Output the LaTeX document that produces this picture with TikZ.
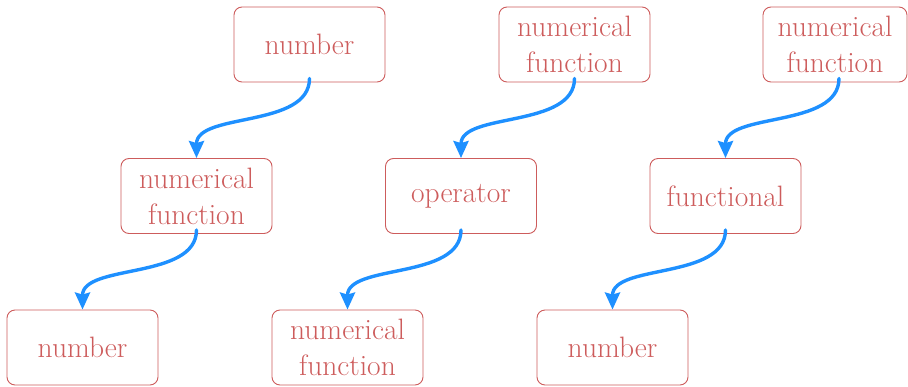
\documentclass[tikz,border=0pt]{standalone}
\usetikzlibrary{arrows.meta}
\definecolor{boxred}{RGB}{205,92,92}
\definecolor{arrblue}{RGB}{30,144,255}
\tikzset{
  term/.style={draw=boxred, text=boxred, line width=0.9pt, rounded corners=8pt,
    minimum width=151pt, minimum height=75pt, align=center, inner sep=0pt,
    font=\fontsize{29.5}{36}\selectfont},
  flow/.style={draw=arrblue, line width=3.4pt, line cap=round,
    -{Stealth[length=17pt,width=15pt,inset=2pt]}}
}
\begin{document}
\begin{tikzpicture}[x=1pt,y=-1pt]
\useasboundingbox (0,0) rectangle (908,386);
\node[term] (A) at (309.5,44.5) {number};
\node[term] (B) at (574.5,44.5) {numerical\\function};
\node[term, minimum width=144pt] (C) at (835,44.5) {numerical\\function};
\node[term] (D) at (196.5,196) {numerical\\function};
\node[term] (E) at (461,196) {operator};
\node[term] (F) at (725.5,196) {functional};
\node[term] (G) at (82.5,347.5) {number};
\node[term] (H) at (347.5,347.5) {numerical\\function};
\node[term] (I) at (612.5,347.5) {number};
\draw[flow] ([yshift=4pt]A.south) .. controls +(0,50) and +(0,-46) .. (D.north);
\draw[flow] ([yshift=4pt]B.south) .. controls +(0,50) and +(0,-46) .. (E.north);
\draw[flow] ([xshift=4pt,yshift=4pt]C.south) .. controls +(0,50) and +(0,-46) .. (F.north);
\draw[flow] ([yshift=4pt]D.south) .. controls +(0,50) and +(0,-46) .. (G.north);
\draw[flow] ([yshift=4pt]E.south) .. controls +(0,50) and +(0,-46) .. (H.north);
\draw[flow] ([yshift=4pt]F.south) .. controls +(0,50) and +(0,-46) .. (I.north);
\end{tikzpicture}
\end{document}
